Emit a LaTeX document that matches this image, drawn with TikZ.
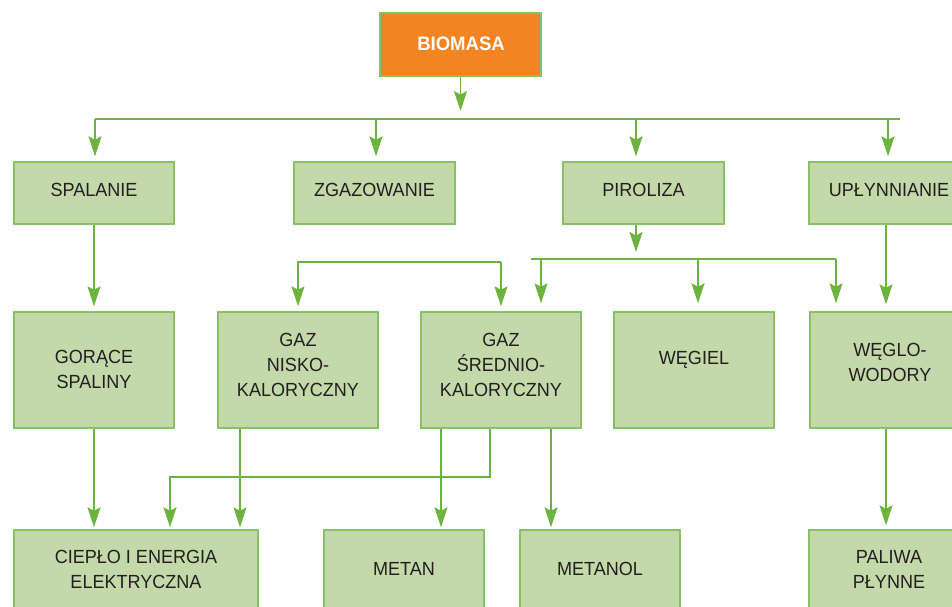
\documentclass[tikz,border=0pt]{standalone}
\usepackage{fontspec}
\setmainfont{Liberation Sans}[FakeStretch=0.95]
\usetikzlibrary{arrows.meta}
\definecolor{bioorange}{HTML}{F28522}
\definecolor{boxfill}{HTML}{C3D9A9}
\definecolor{boxedge}{HTML}{86C265}
\definecolor{linkgreen}{HTML}{6DB33F}
\definecolor{ink}{HTML}{231F20}
\tikzset{
  box/.style={draw=boxedge, fill=boxfill, line width=1.4pt, inner sep=0pt},
  topbox/.style={draw=boxedge, fill=bioorange, line width=1.4pt, inner sep=0pt},
  txt/.style={inner sep=0pt, align=center, text=ink, font=\fontsize{19}{25}\selectfont},
  link/.style={draw=linkgreen, line width=1.3pt},
  arr/.style={link, -{Stealth[length=20pt, width=13pt, inset=3.5pt]}, shorten >=5pt},
}
\begin{document}
\begin{tikzpicture}[x=1pt, y=-1pt]
\useasboundingbox (0,0) rectangle (952,606);
\clip (0,0) rectangle (952,606);

% top process
\node[topbox, minimum width=161pt, minimum height=63pt] (bio) at (460.5,44.5) {};
\node[inner sep=0pt, text=white, font=\fontsize{19.5}{24}\selectfont\bfseries] (bioT) at (461,44) {BIOMASA};

% conversion routes
\node[box, minimum width=160pt, minimum height=62pt] (spal) at (94,193) {};
\node[box, minimum width=161pt, minimum height=62pt] (zgaz) at (374.5,193) {};
\node[box, minimum width=161pt, minimum height=62pt] (piro) at (643.5,193) {};
\node[box, minimum width=160pt, minimum height=62pt] (upl) at (889,193) {};
\node[txt] (spalT) at (94,190) {SPALANIE};
\node[txt] (zgazT) at (374.5,190) {ZGAZOWANIE};
\node[txt] (piroT) at (643.5,190) {PIROLIZA};
\node[txt] (uplT) at (889,190) {UPŁYNNIANIE};

% intermediate products
\node[box, minimum width=160pt, minimum height=116pt] (gor) at (94,370) {};
\node[box, minimum width=160pt, minimum height=116pt] (nisko) at (298,370) {};
\node[box, minimum width=160pt, minimum height=116pt] (sred) at (501,370) {};
\node[box, minimum width=160pt, minimum height=116pt] (wegiel) at (694,370) {};
\node[box, minimum width=160pt, minimum height=116pt] (weglo) at (890,370) {};
\node[txt] (gorT) at (94,369.5) {GORĄCE\\SPALINY};
\node[txt] (niskoT) at (298,365) {GAZ\\NISKO-\\KALORYCZNY};
\node[txt] (sredT) at (501,365) {GAZ\\ŚREDNIO-\\KALORYCZNY};
\node[txt] (wegielT) at (694,360) {WĘGIEL};
\node[txt] (wegloT) at (890,362.5) {WĘGLO-\\WODORY};

% final products
\node[box, minimum width=244pt, minimum height=116pt] (cieplo) at (136,588) {};
\node[box, minimum width=160pt, minimum height=116pt] (metan) at (404,588) {};
\node[box, minimum width=160pt, minimum height=116pt] (metanol) at (600,588) {};
\node[box, minimum width=160pt, minimum height=116pt] (paliwa) at (889,588) {};
\node[txt] (cieploT) at (136,569.5) {CIEPŁO I ENERGIA\\ELEKTRYCZNA};
\node[txt] (metanT) at (404,569) {METAN};
\node[txt] (metanolT) at (600,569) {METANOL};
\node[txt] (paliwaT) at (889,569.5) {PALIWA\\PŁYNNE};

% distribution bar below BIOMASA
\coordinate (t1) at (95,119);
\coordinate (t2) at (376,119);
\coordinate (t3) at (636,119);
\coordinate (t4) at (888,119);
\coordinate (tR) at (900,119);
\draw[link] (t1) -- (tR);
\draw[arr, shorten >=8pt] (bio.south) -- (bio.south |- t1);
\draw[arr] (t1) -- (t1 |- spal.north);
\draw[arr] (t2) -- (t2 |- zgaz.north);
\draw[arr] (t3) -- (t3 |- piro.north);
\draw[arr] (t4) -- (t4 |- upl.north);

% combustion
\draw[arr] (spal.south) -- (gor.north);

% gasification bracket
\coordinate (zA) at (298,262);
\coordinate (zB) at (501,262);
\draw[arr] (zB) -- (zA) -- (nisko.north);
\draw[arr] (zB) -- (sred.north);

% pyrolysis bar
\coordinate (pL) at (531,259);
\coordinate (p1) at (541,259);
\coordinate (p2) at (698,259);
\coordinate (pR) at (836,259);
\draw[arr, shorten >=7pt] (piro.south -| t3) -- (pL -| t3);
\draw[link] (pL) -- (pR);
\draw[arr, shorten >=8pt] (p1) -- (p1 |- sred.north);
\draw[arr, shorten >=8pt] (p2) -- (p2 |- wegiel.north);
\draw[arr, shorten >=8pt] (pR) -- (pR |- weglo.north);

% liquefaction
\draw[arr, shorten >=7pt] ([xshift=-3pt]upl.south) -- ([xshift=-3pt]upl.south |- weglo.north);

% products to final uses
\coordinate (sc) at (170,477);
\draw[arr, shorten >=2pt] (gor.south) -- (gor.south |- cieplo.north);
\draw[arr, shorten >=2pt] ([xshift=-58pt]nisko.south) -- ([xshift=-58pt]nisko.south |- cieplo.north);
\draw[arr, shorten >=2pt] ([xshift=-11pt]sred.south) |- (sc) -- (sc |- cieplo.north);
\draw[arr, shorten >=2pt] ([xshift=-60pt]sred.south) -- ([xshift=-60pt]sred.south |- metan.north);
\draw[arr, shorten >=2pt] ([xshift=50pt]sred.south) -- ([xshift=50pt]sred.south |- metanol.north);
\draw[arr, shorten >=4pt] ([xshift=-4pt]weglo.south) -- ([xshift=-4pt]weglo.south |- paliwa.north);
\end{tikzpicture}
\end{document}
